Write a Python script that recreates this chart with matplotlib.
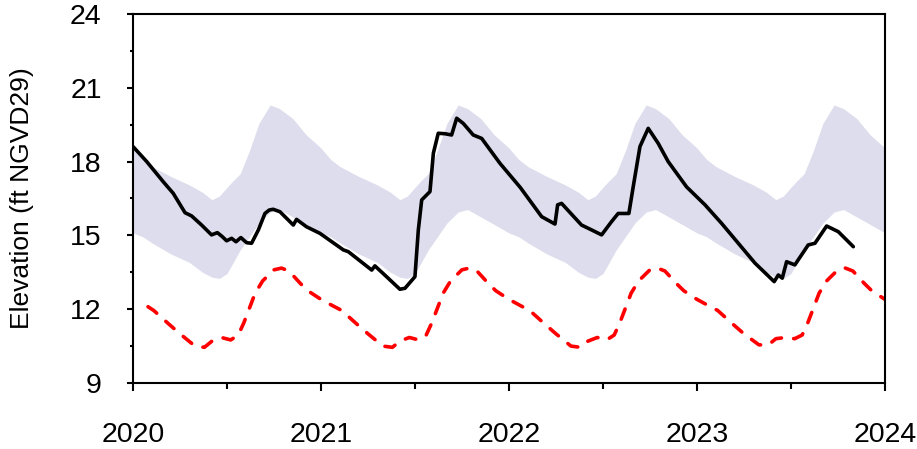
import matplotlib
matplotlib.use("Agg")
import matplotlib.pyplot as plt

plt.rcParams['font.family'] = ['Liberation Sans', 'DejaVu Sans']

# envelope band (decimal years)
band_x = [2020.00, 2020.05, 2020.10, 2020.20, 2020.30, 2020.37, 2020.42, 2020.46, 2020.50, 2020.53, 2020.57, 2020.62, 2020.67, 2020.73, 2020.78, 2020.85, 2020.92,
          2021.00, 2021.05, 2021.10, 2021.20, 2021.30, 2021.37, 2021.42, 2021.46, 2021.50, 2021.53, 2021.57, 2021.62, 2021.67, 2021.73, 2021.78, 2021.85, 2021.92,
          2022.00, 2022.05, 2022.10, 2022.20, 2022.30, 2022.37, 2022.42, 2022.46, 2022.50, 2022.53, 2022.57, 2022.62, 2022.67, 2022.73, 2022.78, 2022.85, 2022.92,
          2023.00, 2023.05, 2023.10, 2023.20, 2023.30, 2023.37, 2023.42, 2023.46, 2023.50, 2023.53, 2023.57, 2023.62, 2023.67, 2023.73, 2023.78, 2023.85, 2023.92,
          2024.00]
band_hi = [18.55, 18.10, 17.80, 17.40, 17.05, 16.75, 16.45, 16.60, 16.95, 17.20, 17.50, 18.45, 19.55, 20.30, 20.15, 19.75, 19.10,
           18.55, 18.10, 17.80, 17.40, 17.05, 16.75, 16.45, 16.60, 16.95, 17.20, 17.50, 18.45, 19.55, 20.30, 20.15, 19.75, 19.10,
           18.55, 18.10, 17.80, 17.40, 17.05, 16.75, 16.45, 16.60, 16.95, 17.20, 17.50, 18.45, 19.55, 20.30, 20.15, 19.75, 19.10,
           18.55, 18.10, 17.80, 17.40, 17.05, 16.75, 16.45, 16.60, 16.95, 17.20, 17.50, 18.45, 19.55, 20.30, 20.15, 19.75, 19.10,
           18.55]
band_lo = [15.10, 14.95, 14.70, 14.25, 13.90, 13.50, 13.30, 13.25, 13.45, 13.85, 14.40, 14.95, 15.50, 15.95, 16.05, 15.75, 15.45,
           15.10, 14.95, 14.70, 14.25, 13.90, 13.50, 13.30, 13.25, 13.45, 13.85, 14.40, 14.95, 15.50, 15.95, 16.05, 15.75, 15.45,
           15.10, 14.95, 14.70, 14.25, 13.90, 13.50, 13.30, 13.25, 13.45, 13.85, 14.40, 14.95, 15.50, 15.95, 16.05, 15.75, 15.45,
           15.10, 14.95, 14.70, 14.25, 13.90, 13.50, 13.30, 13.25, 13.45, 13.85, 14.40, 14.95, 15.50, 15.95, 16.05, 15.75, 15.45,
           15.10]

# red dashed line
red_x = [2020.08, 2020.11, 2020.19, 2020.25, 2020.33, 2020.38, 2020.42, 2020.47, 2020.52, 2020.56, 2020.59, 2020.62, 2020.65, 2020.69, 2020.75, 2020.79, 2020.83, 2020.89, 2020.93, 2020.97,
         2021.00, 2021.06, 2021.11, 2021.19, 2021.25, 2021.33, 2021.38, 2021.42, 2021.47, 2021.52, 2021.56, 2021.59, 2021.62, 2021.65, 2021.69, 2021.75, 2021.79, 2021.83, 2021.89, 2021.93, 2021.97,
         2022.00, 2022.06, 2022.11, 2022.19, 2022.25, 2022.33, 2022.38, 2022.42, 2022.47, 2022.52, 2022.56, 2022.59, 2022.62, 2022.65, 2022.69, 2022.75, 2022.79, 2022.83, 2022.89, 2022.93, 2022.97,
         2023.00, 2023.06, 2023.11, 2023.19, 2023.25, 2023.33, 2023.38, 2023.42, 2023.47, 2023.52, 2023.56, 2023.59, 2023.62, 2023.65, 2023.69, 2023.75, 2023.79, 2023.83, 2023.89, 2023.93, 2023.97,
         2024.00]
red_y = [12.10, 11.95, 11.40, 11.00, 10.50, 10.45, 10.70, 10.85, 10.75, 10.95, 11.45, 12.05, 12.65, 13.15, 13.60, 13.67, 13.55, 13.05, 12.75, 12.55,
         12.40, 12.15, 11.95, 11.40, 11.00, 10.50, 10.45, 10.70, 10.85, 10.75, 10.95, 11.45, 12.05, 12.65, 13.15, 13.60, 13.67, 13.55, 13.05, 12.75, 12.55,
         12.40, 12.15, 11.95, 11.40, 11.00, 10.50, 10.45, 10.70, 10.85, 10.75, 10.95, 11.45, 12.05, 12.65, 13.15, 13.60, 13.67, 13.55, 13.05, 12.75, 12.55,
         12.40, 12.15, 11.95, 11.40, 11.00, 10.55, 10.55, 10.80, 10.85, 10.80, 10.95, 11.45, 12.05, 12.65, 13.15, 13.60, 13.67, 13.55, 13.05, 12.75, 12.55,
         12.40]

# observed stage
stage_x = [2020.000, 2020.073, 2020.161, 2020.214, 2020.277, 2020.312, 2020.365, 2020.418, 2020.449, 2020.475, 2020.498, 2020.525, 2020.548,
           2020.574, 2020.605, 2020.631, 2020.667, 2020.702, 2020.725, 2020.746, 2020.782, 2020.853, 2020.870, 2020.923, 2020.995,
           2021.119, 2021.145, 2021.270, 2021.287, 2021.349, 2021.420, 2021.447, 2021.500, 2021.518, 2021.536, 2021.580, 2021.598,
           2021.624, 2021.660, 2021.695, 2021.722, 2021.757, 2021.810, 2021.855, 2021.952, 2022.060, 2022.174, 2022.245, 2022.259,
           2022.280, 2022.386, 2022.440, 2022.493, 2022.546, 2022.581, 2022.638, 2022.661, 2022.697, 2022.741, 2022.794, 2022.847,
           2022.945, 2023.043, 2023.131, 2023.309, 2023.411, 2023.433, 2023.454, 2023.477, 2023.521, 2023.592, 2023.628, 2023.690,
           2023.752, 2023.832]
stage_y = [18.61, 18.00, 17.18, 16.71, 15.92, 15.79, 15.42, 15.02, 15.11, 14.95, 14.78, 14.88, 14.74,
           14.91, 14.70, 14.68, 15.22, 15.89, 16.03, 16.06, 15.96, 15.42, 15.65, 15.35, 15.08,
           14.41, 14.34, 13.59, 13.76, 13.32, 12.81, 12.85, 13.32, 15.22, 16.44, 16.78, 18.34,
           19.15, 19.13, 19.08, 19.76, 19.55, 19.08, 18.94, 17.93, 16.95, 15.76, 15.46, 16.24,
           16.30, 15.42, 15.22, 15.02, 15.56, 15.89, 15.89, 16.97, 18.61, 19.35, 18.74, 18.00,
           16.97, 16.24, 15.49, 13.87, 13.12, 13.39, 13.26, 13.93, 13.80, 14.61, 14.68, 15.38,
           15.15, 14.54]

year_ticks = [2020, 2021, 2022, 2023, 2024]
elev_ticks = [9, 12, 15, 18, 21, 24]

fig = plt.figure(figsize=(9.17, 4.49), dpi=100)
ax = fig.add_axes([0.145, 0.147, 0.82, 0.822])

ax.fill_between(band_x, band_lo, band_hi, color='#dddded', lw=0, zorder=1)
ax.plot(red_x, red_y, color='#ff0000', lw=2.6, dashes=(3.0, 3.4), dash_capstyle='round', zorder=2)
ax.plot(stage_x, stage_y, color='black', lw=2.6, solid_joinstyle='round', solid_capstyle='round', zorder=3)

ax.set_xlim(2020, 2024)
ax.set_ylim(9, 24)
ax.set_xticks(year_ticks)
ax.set_xticklabels([str(y) for y in year_ticks])
ax.set_xticks([2020.5, 2021.5, 2022.5, 2023.5], minor=True)
ax.set_yticks(elev_ticks)
ax.set_yticks([10.5, 13.5, 16.5, 19.5, 22.5], minor=True)

for s in ax.spines.values():
    s.set_linewidth(1.5)

ax.tick_params(axis='x', which='major', direction='out', length=6, width=1.5, pad=22, labelsize=20.5)
ax.tick_params(axis='x', which='minor', direction='out', length=4, width=1.5)
ax.tick_params(axis='y', which='major', direction='out', length=4.5, width=1.5, pad=18, labelsize=20.5)
ax.tick_params(axis='y', which='minor', direction='out', length=2.5, width=1.5)

ax.set_ylabel('Elevation (ft NGVD29)', fontsize=19)
ax.yaxis.set_label_coords(-0.131, 0.5)

fig.savefig('out.png', dpi=100)
